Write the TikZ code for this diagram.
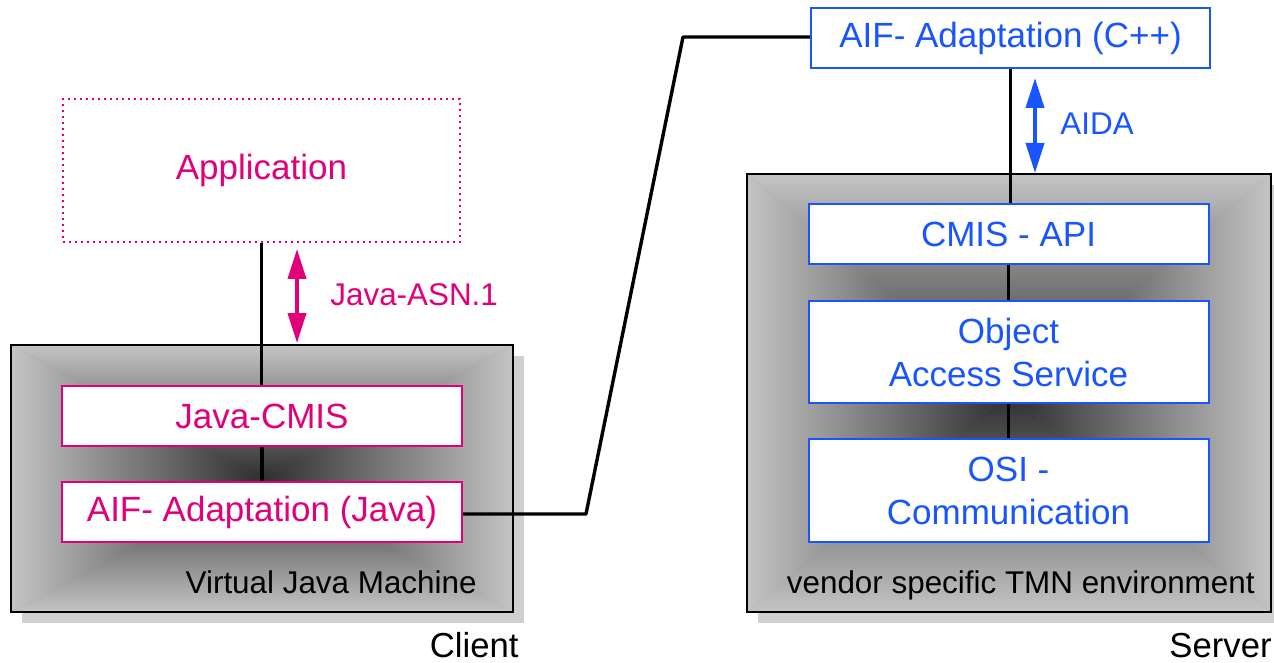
\documentclass[tikz,border=0pt]{standalone}
\usepackage{fontspec}
\setmainfont{Liberation Sans}
\usetikzlibrary{arrows.meta,calc}

\definecolor{tmag}{RGB}{226,0,122}
\definecolor{tblue}{RGB}{25,85,255}
\definecolor{envlight}{RGB}{196,196,196}
\definecolor{envdark}{RGB}{46,46,46}
\definecolor{envshadow}{RGB}{208,208,208}

% Grey environment panel: drop shadow, rectangular gradient (light rim,
% dark centre) built from four shaded triangles, and a black frame.
% Arguments: left, top, right, bottom (picture units).
\newcommand\envpanel[4]{%
  \fill[envshadow] (#1+11,#2+11) rectangle (#3+11,#4+11);
  \fill[envlight!68!envdark] (#1,#2) rectangle (#3,#4);
  \coordinate (pc) at ({(#1+#3)/2},{(#2+#4)/2});
  \shade[top color=envlight,middle color=envlight!68!envdark,bottom color=envdark]
    (#1,#2) -- (#3,#2) -- (pc) -- cycle;
  \shade[top color=envdark,middle color=envlight!68!envdark,bottom color=envlight]
    (#1,#4) -- (#3,#4) -- (pc) -- cycle;
  \shade[left color=envlight,middle color=envlight!68!envdark,right color=envdark]
    (#1,#2) -- (#1,#4) -- (pc) -- cycle;
  \shade[left color=envdark,middle color=envlight!68!envdark,right color=envlight]
    (#3,#2) -- (#3,#4) -- (pc) -- cycle;
  \draw[line width=1.2pt] (#1,#2) rectangle (#3,#4);
}

\tikzset{
  unitbox/.style={draw=#1, text=#1, fill=white, line width=1pt,
    minimum width=200pt, minimum height=30pt, inner sep=0pt, align=center,
    font=\fontsize{17.5}{21.5}\selectfont},
  appbox/.style={draw=tmag, text=tmag, line width=0.8pt,
    dash pattern=on 0.8pt off 2.2pt,
    minimum width=198.5pt, minimum height=71.5pt, inner sep=0pt,
    font=\fontsize{17.5}{21.5}\selectfont},
  wire/.style={line width=1.7pt, black},
  flow/.style={line width=1.9pt,
    {Triangle[width=9pt,length=15pt]}-{Triangle[width=9pt,length=15pt]}},
  note/.style={font=\fontsize{15.7}{19}\selectfont, inner sep=0pt},
  caption/.style={font=\fontsize{17.35}{21}\selectfont, inner sep=0pt},
}

\begin{document}
\begin{tikzpicture}[x=0.5pt,y=-0.5pt]
\useasboundingbox (0,0) rectangle (1274,663);

% environments
\envpanel{11}{345}{513}{612}
\envpanel{747}{174}{1271}{612}
\node[note, anchor=base east] (vjm) at (477,593) {Virtual Java Machine};
\node[note, anchor=base east] (tmn) at (1255,593) {vendor specific TMN environment};

% client stack
\node[appbox] (app) at (261.5,170.5) {Application};
\node[unitbox=tmag] (jcmis) at (262,416) {Java-CMIS};
\node[unitbox=tmag] (aifj) at (262,512) {AIF- Adaptation (Java)};

% server stack
\node[unitbox=tblue, minimum width=199.5pt] (aifc) at (1010.5,38) {AIF- Adaptation (C++)};
\node[unitbox=tblue] (api) at (1008.5,234) {CMIS - API};
\node[unitbox=tblue, minimum height=51pt] (oas) at (1008.5,352) {Object\\Access Service};
\node[unitbox=tblue, minimum height=51.5pt] (osi) at (1008.5,490.5) {OSI -\\Communication};

% connections
\draw[wire] (app.south) -- (app.south |- jcmis.north);
\draw[wire] (jcmis.south) -- (aifj.north);
\draw[wire] (aifc.south) -- (aifc.south |- api.north);
\draw[wire] (api.south) -- (oas.north);
\draw[wire] (oas.south) -- (osi.north);
\coordinate (bendA) at (586,514);
\coordinate (bendB) at (683,37);
\draw[wire, line join=round] (aifj.east |- bendA) -- (bendA) -- (bendB) -- (aifc.west |- bendB);

% interfaces
\coordinate (asnT) at (297,249);
\coordinate (asnB) at (297,343);
\draw[flow, tmag] (asnT) -- (asnB);
\node[note, text=tmag, anchor=base west] (asn) at (330,306) {Java-ASN.1};

\coordinate (aidaT) at (1035,78);
\coordinate (aidaB) at (1035,173);
\draw[flow, tblue] (aidaT) -- (aidaB);
\node[note, text=tblue, anchor=base west] (aida) at (1060,135) {AIDA};

% sides
\node[caption, anchor=base east] (client) at (519,657) {Client};
\node[caption, anchor=base east] (server) at (1272,657) {Server};
\end{tikzpicture}
\end{document}
